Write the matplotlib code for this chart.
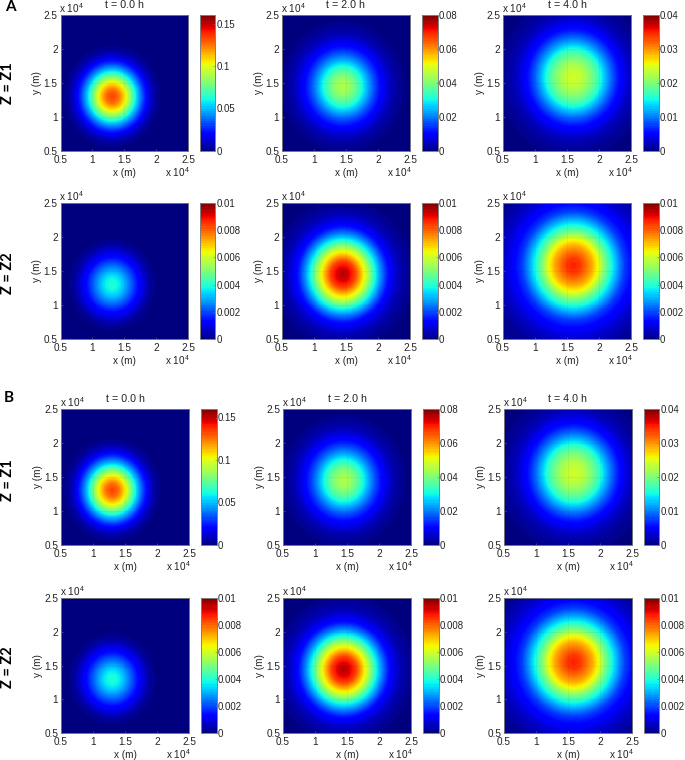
import matplotlib
matplotlib.use('Agg')
import matplotlib.pyplot as plt
import numpy as np

plt.rcParams['font.family'] = ['Liberation Sans', 'DejaVu Sans']
plt.rcParams['mathtext.default'] = 'regular'

radii = [0, 1000, 2000, 3000, 4000, 5000, 6000, 7000, 8000, 9000, 10000, 11000, 12000, 13000, 14000, 20000]
z1_t0 = [0.135, 0.126, 0.106, 0.078, 0.050, 0.028, 0.012, 0.004, 0.001, 0, 0, 0, 0, 0, 0, 0]
z1_t2 = [0.045, 0.043, 0.038, 0.031, 0.023, 0.016, 0.0105, 0.0065, 0.0035, 0.002, 0.0008, 0.0003, 0, 0, 0, 0]
z1_t4 = [0.024, 0.0235, 0.022, 0.0195, 0.0165, 0.0125, 0.009, 0.006, 0.004, 0.0025, 0.0015, 0.001, 0.0005, 0.0003, 0.0001, 0]
z2_t0 = [0.0039, 0.0037, 0.003, 0.0022, 0.0014, 0.0008, 0.0003, 0.0001, 0, 0, 0, 0, 0, 0, 0, 0]
z2_t2 = [0.0095, 0.0091, 0.0083, 0.0069, 0.0055, 0.0039, 0.0026, 0.0015, 0.0009, 0.0005, 0.0003, 0.00015, 0.0001, 0, 0, 0]
z2_t4 = [0.0087, 0.0085, 0.0079, 0.0072, 0.0062, 0.0049, 0.0038, 0.0028, 0.0019, 0.0014, 0.001, 0.0007, 0.0005, 0.0003, 0.0002, 0]

profiles = [[z1_t0, z1_t2, z1_t4], [z2_t0, z2_t2, z2_t4]]
centres = [(13000, 13000), (14500, 14500), (16000, 15800)]
centres_b = [(13000, 13000), (14500, 14400), (15800, 15500)]
times = ['t = 0.0 h', 't = 2.0 h', 't = 4.0 h']

tick_values = [5000, 10000, 15000, 20000, 25000]
tick_labels = ['0.5', '1', '1.5', '2', '2.5']

# colour limits and colorbar ticks
cb_max = [[0.16, 0.08, 0.04], [0.01, 0.01, 0.01]]
cb_ticks = [[[0, 0.05, 0.1, 0.15], [0, 0.02, 0.04, 0.06, 0.08], [0, 0.01, 0.02, 0.03, 0.04]],
            [[0, 0.002, 0.004, 0.006, 0.008, 0.01]] * 3]
cb_labels = [[['0', '0.05', '0.1', '0.15'], ['0', '0.02', '0.04', '0.06', '0.08'], ['0', '0.01', '0.02', '0.03', '0.04']],
             [['0', '0.002', '0.004', '0.006', '0.008', '0.01']] * 3]

W, H = 685, 760
fig = plt.figure(figsize=(W / 100, H / 100), dpi=100)

def px_axes(x0, y0, x1, y1):
    # pixel box measured from the top left of the picture
    return fig.add_axes([x0 / W, 1 - y1 / H, (x1 - x0) / W, (y1 - y0) / H])

def px_text(x, y, s, **kw):
    fig.text(x / W, 1 - y / H, s, ha='center', va='center', **kw)

cmap = plt.get_cmap('jet', 64)
grid = np.linspace(5000, 25000, 256)
xx, yy = np.meshgrid(grid, grid)
frame = '#6f7480'
text_col = '#222222'
fs = 7.2

col_a = [(60.5, 188, 200, 215.5), (282, 410, 422, 437.5), (503, 631, 643, 658.5)]
col_b = [(61, 189, 201, 216.5), (283, 411, 423, 438.5), (504, 632, 643.5, 659)]
row_y = [(15, 151), (203, 339), (409, 545), (598, 733)]

for r, (y0, y1) in enumerate(row_y):
    part_b = r >= 2
    cols = col_b if part_b else col_a
    cen = centres_b if part_b else centres
    kind = r % 2
    for c, (x0, x1, cx0, cx1) in enumerate(cols):
        ax = px_axes(x0, y0, x1, y1)
        dist = np.hypot(xx - cen[c][0], yy - cen[c][1])
        field = np.interp(dist, radii, profiles[kind][c])
        im = ax.imshow(field, origin='lower', extent=[5000, 25000, 5000, 25000],
                       cmap=cmap, vmin=0, vmax=cb_max[kind][c], aspect='auto')
        ax.set_xticks(tick_values)
        ax.set_xticklabels(tick_labels)
        ax.set_yticks(tick_values)
        ax.set_yticklabels(tick_labels)
        ax.tick_params(direction='in', length=1.5, width=0.4, color=frame, labelsize=fs,
                       labelcolor=text_col, pad=2)
        ax.tick_params(axis='x', pad=3)
        ax.grid(color='black', alpha=0.06, linewidth=0.5)
        for s in ax.spines.values():
            s.set_color(frame)
            s.set_linewidth(0.7)
        ax.set_xlabel('x (m)', fontsize=fs, color=text_col, labelpad=2)
        ax.set_ylabel('y (m)', fontsize=fs, color=text_col, labelpad=1)
        px_text(x0 + 11, y0 - 7, 'x 10$^{4}$', fontsize=fs, color=text_col)
        px_text(x1 - 11, y1 + 21, 'x 10$^{4}$', fontsize=fs, color=text_col)

        cax = px_axes(cx0, y0, cx1, y1)
        cb = fig.colorbar(im, cax=cax)
        cb.set_ticks(cb_ticks[kind][c])
        cb.set_ticklabels(cb_labels[kind][c])
        cb.ax.tick_params(direction='in', length=1.5, width=0.4, color=frame, labelsize=6.9,
                          labelcolor=text_col, pad=1)
        cb.outline.set_edgecolor('#808080')
        cb.outline.set_linewidth(0.7)

        if kind == 0:
            px_text((x0 + x1) / 2, y0 - 10, times[c], fontsize=7.7, color=text_col)

bold = dict(fontweight='bold', family=['Lato', 'DejaVu Sans'])
for y, s in zip([83, 273, 480, 667], ['Z = Z1', 'Z = Z2', 'Z = Z1', 'Z = Z2']):
    px_text(8, y, s, fontsize=10.5, rotation=90, **bold)
px_text(10, 7, 'A', fontsize=11, **bold)
px_text(9, 398, 'B', fontsize=11, **bold)

fig.savefig('out.png', dpi=100)
